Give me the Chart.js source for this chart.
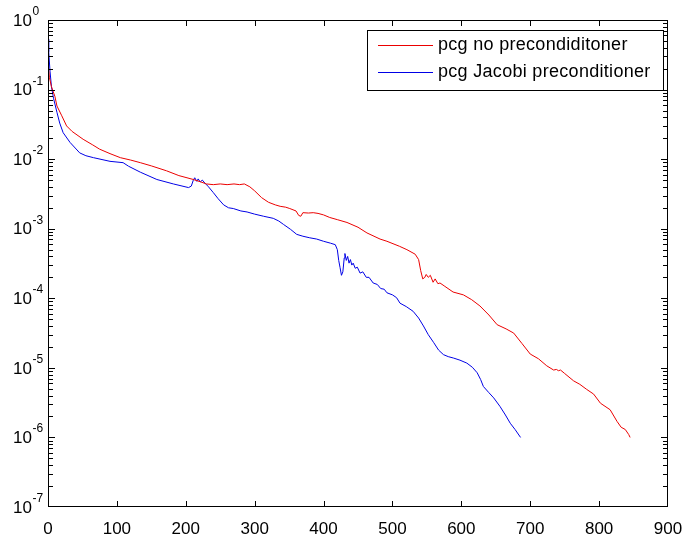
<!DOCTYPE html>
<html>
<head>
<meta charset="utf-8">
<script src="https://cdn.jsdelivr.net/npm/chart.js@4/dist/chart.umd.min.js"></script>
<style>
  html, body { margin: 0; padding: 0; background: #fff; }
  #wrap { width: 684px; height: 536px; }
</style>
</head>
<body>
<div id="wrap"><canvas id="c" width="684" height="536"></canvas></div>
<script>
// Residual history of the conjugate gradient runs
const seriesNames = ['pcg no precondiditoner', 'pcg Jacobi preconditioner'];

const plainIter = [0, 2, 5, 10, 13, 20, 27, 35, 51, 65, 75, 90, 105, 120, 134, 150, 172, 190, 211, 222,
  230, 240, 250, 260, 270, 278, 285, 293, 300, 310, 320, 330, 337, 345, 351, 360, 364, 367, 370, 378,
  385, 392, 400, 409, 420, 434, 450, 463, 482, 492, 510, 521, 533, 538, 541, 544, 547, 549, 552, 555,
  559, 562, 566, 569, 575, 588, 603, 615, 627, 640, 652, 665, 676, 688, 700, 712, 724, 734, 738, 741,
  744, 750, 763, 772, 782, 792, 802, 816, 826, 832, 838, 843, 845];
const plainResidual = [0.25, 0.15, 0.11, 0.08, 0.058, 0.042, 0.030, 0.025, 0.0193, 0.016, 0.0139, 0.012,
  0.0105, 0.0097, 0.0089, 0.0080, 0.0068, 0.0058, 0.0051, 0.0047,
  0.0044, 0.0043, 0.0044, 0.0043, 0.0044, 0.0043, 0.0044, 0.0040, 0.0035, 0.0028, 0.0024, 0.0022,
  0.0021, 0.00204, 0.00195, 0.0018, 0.00155, 0.00151, 0.0017, 0.00168,
  0.0017, 0.00166, 0.00158, 0.00145, 0.00135, 0.00123, 0.00105, 0.00087, 0.00071, 0.00066, 0.00056,
  0.00050, 0.00043, 0.00036, 0.00025, 0.00019, 0.0002, 0.00022, 0.0002, 0.000214,
  0.00017, 0.00019, 0.000162, 0.000166, 0.000151, 0.000123, 0.000112, 0.0000955, 0.0000776, 0.0000575,
  0.0000417, 0.0000363, 0.0000316, 0.0000224, 0.0000158, 0.0000135, 0.0000107, 0.0000093, 0.0000095,
  0.0000091, 0.0000093, 0.0000083, 0.0000065, 0.0000058, 0.0000049, 0.0000042, 0.0000031, 0.0000025,
  0.0000017, 0.0000014, 0.0000013, 0.0000011, 0.000001];

const jacobiIter = [0, 1, 3, 5, 8, 13, 17, 22, 32, 46, 55, 66, 90, 109, 117, 134, 158, 182, 204, 208,
  211, 213, 216, 218, 221, 224, 228, 233, 240, 247, 255, 262, 269, 280, 289, 300, 313, 327, 335, 342,
  352, 361, 370, 380, 390, 400, 410, 417, 420, 422, 424, 426, 428, 430, 431, 433, 435, 437, 439, 441,
  443, 446, 449, 453, 457, 462, 466, 472, 478, 483, 488, 492, 500, 506, 511, 520, 530, 538, 545, 552,
  560, 567, 574, 581, 589, 598, 608, 616, 623, 628, 632, 640, 647, 656, 664, 671, 678, 686];
const jacobiResidual = [0.53, 0.35, 0.18, 0.11, 0.075, 0.047, 0.033, 0.024, 0.0174, 0.0123, 0.0112,
  0.0105, 0.0093, 0.0089, 0.0079, 0.0065, 0.0051, 0.0044, 0.0039, 0.0041,
  0.0050, 0.0054, 0.0048, 0.0052, 0.0047, 0.0050, 0.0045, 0.0040, 0.0033, 0.0027, 0.0022, 0.0020,
  0.00195, 0.0018, 0.00174, 0.00162, 0.00151, 0.00141, 0.00129, 0.00115,
  0.00098, 0.00083, 0.00078, 0.00074, 0.00071, 0.00066, 0.00062, 0.00059, 0.0005, 0.00035, 0.000275,
  0.000214, 0.00024, 0.00038, 0.00044, 0.00035, 0.0004, 0.00032, 0.00036, 0.0003,
  0.00032, 0.00027, 0.00028, 0.00023, 0.00024, 0.0002, 0.0002, 0.000166, 0.000158, 0.000138, 0.000135,
  0.00012, 0.000112, 0.000102, 0.000085, 0.000076, 0.000065, 0.000052, 0.00004, 0.00003,
  0.000023, 0.000018, 0.0000155, 0.0000145, 0.0000138, 0.0000129, 0.0000117, 0.0000102, 0.0000085,
  0.0000068, 0.0000054, 0.0000044, 0.0000037, 0.0000028, 0.0000021, 0.0000016, 0.0000013, 0.000001];

// Axis ticks
const xTicks = [0, 100, 200, 300, 400, 500, 600, 700, 800, 900];
const yDecades = [1, 1e-1, 1e-2, 1e-3, 1e-4, 1e-5, 1e-6, 1e-7];
const yExponents = ['0', '-1', '-2', '-3', '-4', '-5', '-6', '-7'];

const FONT = '"Liberation Sans", Arial, Helvetica, sans-serif';
const RED = 'rgb(235,0,0)';
const BLUE = 'rgb(0,0,230)';

const toPoints = (xs, ys) => xs.map((x, i) => ({ x: x, y: ys[i] }));

// Box, inward ticks, power-of-ten labels and the legend, MATLAB style
const matlabAxes = {
  id: 'matlabAxes',
  afterDraw(chart) {
    const ctx = chart.ctx;
    const xs = chart.scales.x, ys = chart.scales.y;
    const L = Math.round(xs.getPixelForValue(xTicks[0]));
    const R = Math.round(xs.getPixelForValue(xTicks[xTicks.length - 1])) - 1;
    const T = Math.round(ys.getPixelForValue(yDecades[0]));
    const B = Math.round(ys.getPixelForValue(yDecades[yDecades.length - 1])) - 1;
    ctx.save();
    ctx.fillStyle = '#000';
    // frame
    ctx.fillRect(L, T, R - L + 1, 1);
    ctx.fillRect(L, B, R - L + 1, 1);
    ctx.fillRect(L, T, 1, B - T + 1);
    ctx.fillRect(R, T, 1, B - T + 1);
    // x ticks, bottom and top
    xTicks.forEach(v => {
      const px = Math.min(Math.round(xs.getPixelForValue(v)), R);
      ctx.fillRect(px, B - 5, 1, 5);
      ctx.fillRect(px, T + 1, 1, 5);
    });
    // y ticks, major and minor, left and right
    yDecades.forEach((d, i) => {
      const py = Math.min(Math.round(ys.getPixelForValue(d)), B);
      ctx.fillRect(L + 1, py, 6, 1);
      ctx.fillRect(R - 6, py, 6, 1);
      if (i < yDecades.length - 1) {
        for (let m = 2; m <= 9; m++) {
          const my = Math.round(ys.getPixelForValue(d * m / 10));
          ctx.fillRect(L + 1, my, 4, 1);
          ctx.fillRect(R - 4, my, 4, 1);
        }
      }
    });

    // y labels: 10 with a raised exponent
    yDecades.forEach((d, i) => {
      const py = ys.getPixelForValue(d);
      ctx.font = '17px ' + FONT;
      ctx.textAlign = 'right';
      ctx.textBaseline = 'middle';
      ctx.fillText('10', 32, py + 1);
      ctx.font = '12px ' + FONT;
      ctx.textAlign = 'left';
      ctx.textBaseline = 'alphabetic';
      ctx.fillText(yExponents[i], 32.5, py - 5);
    });

    // legend box
    const bx = 367, by = 30, bw = 296, bh = 60;
    ctx.fillStyle = '#fff';
    ctx.fillRect(bx, by, bw, bh);
    ctx.fillStyle = '#000';
    ctx.fillRect(bx, by, bw, 1);
    ctx.fillRect(bx, by + bh, bw + 1, 1);
    ctx.fillRect(bx, by, 1, bh);
    ctx.fillRect(bx + bw, by, 1, bh);
    const rows = [45, 72];
    chart.data.datasets.forEach((ds, i) => {
      ctx.fillStyle = ds.borderColor;
      ctx.fillRect(378, rows[i], 55, 1);
      ctx.fillStyle = '#000';
      ctx.font = '18px ' + FONT;
      if ('letterSpacing' in ctx) ctx.letterSpacing = '0.3px';
      ctx.textAlign = 'left';
      ctx.textBaseline = 'middle';
      ctx.fillText(ds.label, 438, rows[i] + 0.5);
      if ('letterSpacing' in ctx) ctx.letterSpacing = '0px';
    });
    ctx.restore();
  }
};

new Chart(document.getElementById('c'), {
  type: 'line',
  data: {
    datasets: [
      { label: seriesNames[0], data: toPoints(plainIter, plainResidual), borderColor: RED, borderWidth: 1, pointRadius: 0, tension: 0, fill: false },
      { label: seriesNames[1], data: toPoints(jacobiIter, jacobiResidual), borderColor: BLUE, borderWidth: 1, pointRadius: 0, tension: 0, fill: false }
    ]
  },
  options: {
    responsive: false,
    animation: false,
    devicePixelRatio: 1,
    layout: { padding: { top: 20, right: 16, left: 0, bottom: 0 } },
    plugins: { legend: { display: false }, tooltip: { enabled: false } },
    scales: {
      x: {
        type: 'linear', min: 0, max: 900,
        afterBuildTicks: s => { s.ticks = xTicks.map(v => ({ value: v })); },
        afterFit: s => { s.height = 29; s.paddingLeft = 0; s.paddingRight = 0; },
        grid: { display: false },
        border: { display: false },
        ticks: { color: '#000', font: { family: FONT, size: 17 }, padding: 4, maxRotation: 0, autoSkip: false }
      },
      y: {
        type: 'logarithmic', min: 1e-7, max: 1,
        afterFit: s => { s.width = 48; s.paddingTop = 0; s.paddingBottom = 0; },
        grid: { display: false },
        border: { display: false },
        ticks: { display: false }
      }
    }
  },
  plugins: [matlabAxes]
});
</script>
</body>
</html>
